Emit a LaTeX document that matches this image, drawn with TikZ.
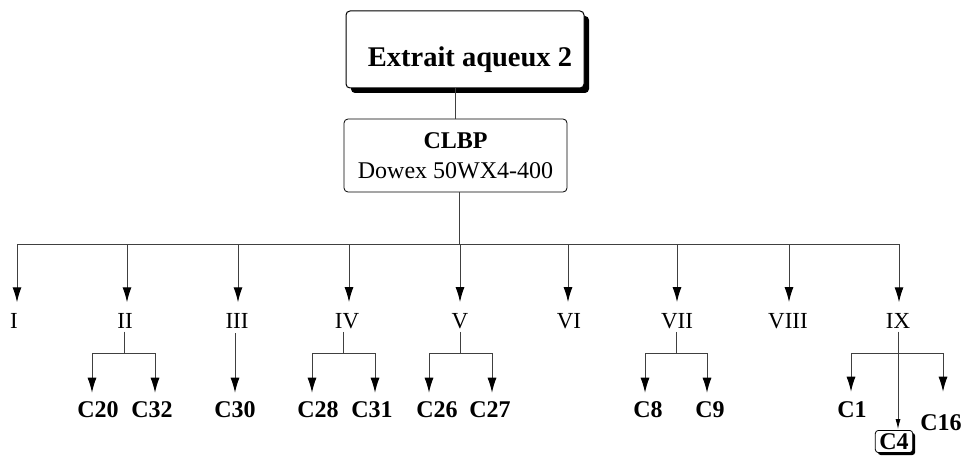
\documentclass[tikz,border=0pt]{standalone}
\usepackage{fontspec}
\setmainfont{Liberation Serif}
\usetikzlibrary{arrows.meta,shadows}
\begin{document}
\begin{tikzpicture}[x=1pt,y=-1pt,
  conn/.style={line width=1pt, draw=black!75},
  arr/.style={conn, -{Latex[length=15pt,width=9pt,color=black]}},
  roman/.style={font=\fontsize{23}{23}\selectfont, inner xsep=0pt, inner ysep=3pt},
  cl/.style={font=\fontsize{24}{24}\selectfont\bfseries, inner xsep=0pt, inner ysep=3pt},
  topbox/.style={draw, line width=1pt, rounded corners=4pt, fill=white,
    minimum width=238pt, minimum height=77pt, inner sep=0pt,
    drop shadow={shadow xshift=5pt, shadow yshift=-5pt, opacity=1, fill=black}},
  midbox/.style={draw, line width=0.8pt, rounded corners=4pt, fill=white,
    minimum width=223pt, minimum height=73pt, inner sep=0pt, align=center},
  smallbox/.style={draw, line width=0.8pt, rounded corners=3pt, fill=white,
    inner xsep=4pt, inner ysep=3pt,
    drop shadow={shadow xshift=2.5pt, shadow yshift=-2.5pt, opacity=1, fill=black}}
]
\useasboundingbox (0,0) rectangle (965,457);

% top boxes
\node[topbox, font=\fontsize{28.5}{28.5}\selectfont\bfseries, text height=34pt, text depth=0pt]
  (top) at (465,49.5) {\hspace*{10pt}Extrait aqueux 2};
\node[midbox, font=\fontsize{24}{30}\selectfont] (clbp) at (455.5,155.5)
  {\textbf{CLBP}\\Dowex 50WX4-400};
\draw[conn] (clbp.north) -- (clbp.north |- top.south);

% main bus
\coordinate (hub) at (459,244);
\coordinate (hL) at (17,244);
\coordinate (hR) at (900,244);
\draw[conn] (clbp.south -| hub) -- (hub);
\draw[conn] (hL) -- (hR);

% roman labels
\node[roman] (r1) at (14,321) {I};
\node[roman] (r2) at (125,321) {II};
\node[roman] (r3) at (237,321) {III};
\node[roman] (r4) at (347,321) {IV};
\node[roman] (r5) at (460,321) {V};
\node[roman] (r6) at (569,321) {VI};
\node[roman] (r7) at (677,321) {VII};
\node[roman] (r8) at (788,321) {VIII};
\node[roman] (r9) at (898,321) {IX};

\foreach \n/\x in {r1/17,r2/127,r3/238,r4/349,r5/460,r6/568,r7/677,r8/789,r9/899}{
  \coordinate (t\n) at (\x,244);
  \draw[arr, shorten >=8pt] (t\n) -- (t\n |- \n.north);
}

% compound labels
\node[cl] (c20) at (98,410) {C20};
\node[cl] (c32) at (152,410) {C32};
\node[cl] (c30) at (235,410) {C30};
\node[cl] (c28) at (318,410) {C28};
\node[cl] (c31) at (372,410) {C31};
\node[cl] (c26) at (437,410) {C26};
\node[cl] (c27) at (490,410) {C27};
\node[cl] (c8) at (648,410) {C8};
\node[cl] (c9) at (710,410) {C9};
\node[cl] (c1) at (852,410) {C1};
\node[cl] (c16) at (941,423) {C16};
\node[cl, smallbox] (c4) at (894,441.5) {C4};

% II
\coordinate (j2) at (124,353);
\coordinate (b2L) at (92,353);
\coordinate (b2R) at (155,353);
\draw[conn] (r2.south -| j2) -- (j2);
\draw[conn] (b2L) -- (b2R);
\draw[arr, shorten >=6pt] (b2L) -- (b2L |- c20.north);
\draw[arr, shorten >=6pt] (b2R) -- (b2R |- c32.north);

% III
\coordinate (j3) at (235,333);
\draw[arr, shorten >=6pt] (j3) -- (j3 |- c30.north);

% IV
\coordinate (j4) at (343,353);
\coordinate (b4L) at (312,353);
\coordinate (b4R) at (375,353);
\draw[conn] (r4.south -| j4) -- (j4);
\draw[conn] (b4L) -- (b4R);
\draw[arr, shorten >=6pt] (b4L) -- (b4L |- c28.north);
\draw[arr, shorten >=6pt] (b4R) -- (b4R |- c31.north);

% V
\coordinate (j5) at (460,353);
\coordinate (b5L) at (429,353);
\coordinate (b5R) at (492,353);
\draw[conn] (r5.south -| j5) -- (j5);
\draw[conn] (b5L) -- (b5R);
\draw[arr, shorten >=6pt] (b5L) -- (b5L |- c26.north);
\draw[arr, shorten >=6pt] (b5R) -- (b5R |- c27.north);

% VII
\coordinate (j7) at (676,353);
\coordinate (b7L) at (645,353);
\coordinate (b7R) at (707,353);
\draw[conn] (r7.south -| j7) -- (j7);
\draw[conn] (b7L) -- (b7R);
\draw[arr, shorten >=6pt] (b7L) -- (b7L |- c8.north);
\draw[arr, shorten >=6pt] (b7R) -- (b7R |- c9.north);

% IX
\coordinate (j9) at (898,353);
\coordinate (b9L) at (851,353);
\coordinate (b9R) at (943,353);
\draw[conn] (r9.south -| j9) -- (j9);
\draw[conn] (b9L) -- (b9R);
\draw[arr, shorten >=7pt] (b9L) -- (b9L |- c1.north);
\draw[arr, shorten >=20pt] (b9R) -- (b9R |- c16.north);
\draw[conn, line width=0.8pt, -{Latex[length=10pt,width=5pt,color=black]}, shorten >=1pt] (j9) -- (j9 |- c4.north);
\end{tikzpicture}
\end{document}
